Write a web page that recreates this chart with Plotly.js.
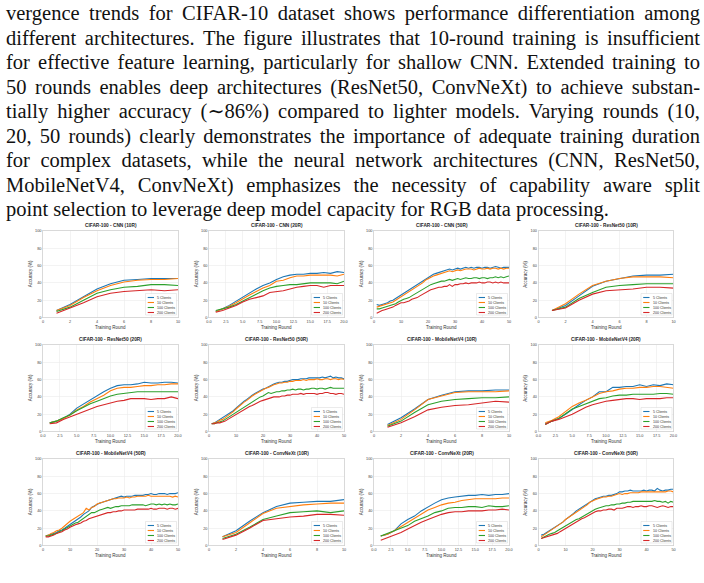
<!DOCTYPE html>
<html>
<head>
<meta charset="utf-8">
<script src="https://cdn.plot.ly/plotly-3.0.1.min.js"></script>
<style>
  html, body { margin: 0; padding: 0; background: #ffffff; }
  #fig { width: 704px; height: 583px; }
</style>
</head>
<body>
<div id="fig"></div>
<script>
// ---------- data ----------
const rounds10 = [1, 2, 3, 4, 5, 6, 7, 8, 9, 10];
const rounds20 = [1, 2, 3, 4, 5, 6, 7, 8, 9, 10, 11, 12, 13, 14, 15, 16, 17, 18, 19, 20];
const rounds50 = [1, 2, 3, 4, 5, 6, 7, 8, 9, 10, 11, 12, 13, 14, 15, 16, 17, 18, 19, 20,
                  21, 22, 23, 24, 25, 26, 27, 28, 29, 30, 31, 32, 33, 34, 35, 36, 37, 38, 39, 40,
                  41, 42, 43, 44, 45, 46, 47, 48, 49, 50];

const clientLabels = ['5 Clients', '10 Clients', '100 Clients', '200 Clients'];

// CNN
const cnn10_5   = [8, 15, 24, 33, 39, 43, 44, 45, 45, 45];
const cnn10_10  = [8, 14, 23, 31, 37, 41, 43, 44, 44, 45];
const cnn10_100 = [7, 12, 20, 28, 32, 35, 36, 38, 38, 37];
const cnn10_200 = [5, 11, 17, 24, 28, 30, 31, 32, 31, 32];

const cnn20_5   = [7, 10, 14, 19, 24, 28, 33, 37, 40, 44, 47, 49, 50, 50, 51, 51, 52, 51, 53, 52];
const cnn20_10  = [7, 10, 13, 17, 22, 26, 30, 34, 37, 42, 43, 46, 48, 48, 49, 49, 49, 49, 48, 50];
const cnn20_100 = [8, 10, 12, 15, 19, 23, 27, 31, 34, 36, 37, 38, 38, 39, 40, 40, 40, 40, 39, 42];
const cnn20_200 = [6, 8, 11, 14, 18, 21, 23, 25, 29, 30, 31, 33, 35, 36, 37, 37, 35, 37, 37, 37];

const cnn50_5   = [15, 14, 15, 16, 17, 19, 20, 22, 24, 26, 28, 30, 32, 34, 37, 39, 41, 43, 45, 47,
                   48, 50, 51, 52, 53, 54, 55, 56, 55, 56, 57, 56, 57, 58, 57, 58, 57, 58, 58, 57,
                   58, 58, 57, 58, 59, 58, 57, 58, 58, 58];
const cnn50_10  = [12, 13, 14, 15, 16, 17, 18, 20, 22, 24, 25, 27, 29, 31, 34, 36, 38, 40, 43, 45,
                   46, 48, 49, 50, 51, 52, 53, 54, 53, 54, 55, 54, 55, 56, 56, 56, 55, 56, 57, 56,
                   56, 57, 56, 57, 57, 56, 57, 56, 57, 57];
const cnn50_100 = [10, 10, 11, 12, 13, 14, 15, 16, 18, 20, 21, 22, 23, 25, 27, 29, 31, 32, 35, 37,
                   38, 39, 40, 41, 42, 42, 43, 44, 43, 44, 45, 44, 45, 46, 45, 45, 46, 46, 45, 46,
                   46, 45, 46, 46, 47, 46, 47, 46, 47, 48];
const cnn50_200 = [5, 7, 8, 9, 10, 11, 12, 14, 16, 17, 17, 18, 19, 21, 22, 23, 25, 27, 29, 31,
                   32, 33, 34, 35, 35, 36, 36, 38, 36, 38, 38, 39, 39, 40, 39, 40, 40, 40, 41, 40,
                   40, 41, 41, 40, 41, 40, 41, 40, 40, 40];

// ResNet50
const res10_5   = [8, 14, 25, 36, 42, 45, 48, 49, 49, 50];
const res10_10  = [8, 16, 27, 37, 42, 45, 47, 47, 47, 46];
const res10_100 = [8, 12, 22, 29, 35, 37, 38, 39, 39, 39];
const res10_200 = [8, 11, 20, 27, 31, 32, 33, 35, 35, 34];

const res20_5   = [10, 12, 15, 20, 27, 32, 37, 42, 46, 50, 53, 54, 54, 55, 57, 56, 56, 57, 57, 56];
const res20_10  = [10, 12, 15, 19, 25, 29, 34, 38, 42, 47, 50, 51, 51, 52, 53, 53, 54, 54, 55, 55];
const res20_100 = [10, 12, 16, 19, 24, 28, 32, 35, 38, 41, 43, 44, 45, 46, 46, 46, 46, 46, 46, 46];
const res20_200 = [9, 10, 14, 17, 20, 23, 26, 29, 31, 33, 35, 36, 38, 38, 38, 37, 38, 38, 40, 38];

const res50_5   = [9, 10, 12, 14, 15, 17, 19, 22, 24, 27, 30, 32, 35, 37, 40, 42, 44, 46, 47, 49,
                   50, 52, 53, 55, 56, 57, 57, 58, 58, 59, 60, 60, 60, 61, 61, 61, 62, 62, 62, 62,
                   62, 63, 62, 63, 64, 62, 63, 62, 62, 61];
const res50_10  = [9, 10, 11, 13, 14, 16, 18, 20, 23, 26, 29, 31, 34, 36, 39, 41, 43, 45, 47, 49,
                   50, 51, 53, 54, 55, 56, 56, 57, 57, 58, 58, 59, 59, 59, 60, 59, 60, 60, 60, 61,
                   60, 60, 61, 61, 60, 61, 61, 60, 61, 60];
const res50_100 = [9, 9, 10, 11, 12, 14, 16, 18, 21, 23, 25, 27, 29, 31, 33, 34, 36, 38, 40, 41,
                   43, 45, 44, 45, 46, 46, 47, 47, 48, 48, 49, 48, 49, 49, 48, 49, 49, 50, 50, 49,
                   50, 50, 49, 50, 51, 50, 50, 50, 50, 50];
const res50_200 = [9, 9, 10, 10, 11, 12, 14, 16, 18, 20, 21, 23, 25, 27, 29, 30, 32, 33, 35, 36,
                   37, 38, 39, 40, 40, 40, 41, 41, 42, 42, 43, 43, 43, 44, 43, 44, 44, 44, 44, 43,
                   44, 44, 45, 45, 44, 44, 43, 44, 44, 43];

// MobileNetV4
const mob10_5   = [8, 16, 26, 37, 42, 46, 47, 47, 48, 48];
const mob10_10  = [7, 14, 25, 37, 41, 45, 46, 46, 46, 47];
const mob10_100 = [6, 12, 22, 31, 35, 37, 38, 39, 39, 40];
const mob10_200 = [5, 10, 17, 25, 28, 30, 31, 33, 35, 34];

const mob20_5   = [9, 12, 15, 20, 26, 31, 36, 40, 46, 46, 51, 51, 52, 52, 54, 52, 54, 53, 55, 54];
const mob20_10  = [10, 13, 17, 23, 29, 33, 36, 40, 44, 46, 47, 49, 50, 50, 51, 51, 52, 52, 51, 50];
const mob20_100 = [8, 12, 15, 20, 26, 29, 32, 35, 38, 39, 41, 42, 42, 43, 43, 43, 43, 44, 44, 43];
const mob20_200 = [8, 12, 14, 17, 20, 24, 28, 31, 33, 35, 36, 37, 38, 38, 37, 38, 38, 38, 39, 39];

const mob50_5   = [11, 12, 13, 14, 15, 17, 18, 20, 22, 24, 26, 28, 31, 33, 36, 38, 40, 44, 46, 48,
                   49, 50, 51, 52, 53, 54, 55, 56, 57, 56, 57, 57, 57, 58, 58, 58, 58, 59, 59, 60,
                   59, 59, 60, 60, 60, 59, 60, 60, 60, 61];
const mob50_10  = [11, 12, 14, 15, 17, 18, 20, 23, 25, 28, 30, 32, 34, 36, 38, 43, 41, 44, 45, 48,
                   49, 50, 51, 52, 53, 54, 54, 55, 55, 55, 56, 55, 56, 56, 57, 57, 57, 57, 58, 57,
                   57, 57, 57, 57, 57, 57, 57, 56, 57, 56];
const mob50_100 = [11, 11, 12, 13, 14, 16, 17, 19, 21, 23, 25, 26, 27, 29, 31, 33, 35, 38, 38, 40,
                   41, 42, 43, 44, 43, 44, 45, 45, 46, 46, 46, 46, 47, 47, 47, 47, 47, 46, 47, 48,
                   48, 47, 48, 47, 48, 47, 48, 47, 47, 48];
const mob50_200 = [10, 10, 11, 12, 14, 15, 16, 18, 19, 21, 23, 24, 25, 26, 28, 29, 31, 32, 33, 34,
                   35, 36, 37, 38, 38, 39, 39, 40, 40, 41, 41, 41, 41, 41, 42, 42, 42, 42, 42, 43,
                   42, 42, 43, 43, 43, 42, 43, 43, 42, 43];

// ConvNeXt
const conv10_5   = [10, 17, 28, 38, 45, 49, 50, 51, 51, 53];
const conv10_10  = [10, 15, 26, 37, 43, 45, 47, 48, 49, 49];
const conv10_100 = [8, 13, 21, 30, 34, 38, 39, 40, 38, 40];
const conv10_200 = [7, 12, 20, 29, 31, 33, 34, 36, 36, 35];

const conv20_5   = [11, 13, 17, 25, 30, 34, 40, 45, 49, 53, 55, 56, 57, 58, 58, 59, 58, 59, 59, 60];
const conv20_10  = [11, 13, 17, 22, 27, 32, 37, 41, 44, 47, 49, 50, 52, 53, 54, 54, 54, 54, 55, 55];
const conv20_100 = [11, 14, 17, 20, 23, 28, 31, 34, 38, 40, 43, 44, 44, 45, 45, 44, 46, 45, 45, 46];
const conv20_200 = [6, 9, 12, 15, 19, 23, 27, 30, 33, 36, 38, 39, 39, 40, 40, 40, 41, 41, 42, 41];

const conv50_5   = [12, 13, 15, 17, 18, 20, 22, 24, 27, 30, 32, 35, 37, 40, 42, 44, 46, 48, 51, 53,
                    54, 55, 56, 57, 57, 58, 58, 59, 60, 62, 62, 63, 63, 64, 63, 63, 63, 63, 64, 63,
                    64, 64, 63, 66, 64, 63, 64, 64, 65, 65];
const conv50_10  = [10, 12, 14, 16, 18, 20, 22, 24, 27, 30, 32, 34, 36, 38, 40, 42, 44, 47, 50, 52,
                    53, 54, 55, 56, 56, 57, 57, 58, 59, 60, 59, 60, 60, 61, 61, 61, 61, 62, 62, 62,
                    62, 62, 62, 62, 62, 62, 62, 63, 63, 62];
const conv50_100 = [8, 10, 11, 13, 14, 15, 17, 19, 21, 23, 25, 27, 28, 30, 31, 33, 35, 37, 39, 41,
                    42, 43, 44, 45, 46, 46, 47, 47, 48, 48, 49, 49, 50, 50, 51, 51, 51, 51, 51, 51,
                    51, 51, 52, 51, 51, 50, 51, 49, 51, 50];
const conv50_200 = [8, 9, 10, 11, 12, 13, 14, 16, 18, 20, 22, 24, 25, 27, 29, 31, 32, 34, 36, 38,
                    39, 40, 40, 41, 41, 42, 42, 41, 43, 43, 43, 44, 45, 45, 44, 45, 45, 46, 45, 45,
                    46, 46, 45, 44, 45, 46, 45, 44, 45, 45];

const panelTitles = [
  'CIFAR-100 - CNN (10R)', 'CIFAR-100 - CNN (20R)', 'CIFAR-100 - CNN (50R)', 'CIFAR-100 - ResNet50 (10R)',
  'CIFAR-100 - ResNet50 (20R)', 'CIFAR-100 - ResNet50 (50R)', 'CIFAR-100 - MobileNetV4 (10R)', 'CIFAR-100 - MobileNetV4 (20R)',
  'CIFAR-100 - MobileNetV4 (50R)', 'CIFAR-100 - ConvNeXt (10R)', 'CIFAR-100 - ConvNeXt (20R)', 'CIFAR-100 - ConvNeXt (50R)'
];

const paragraphLines = [
  'vergence trends for CIFAR-10 dataset shows performance differentiation among',
  'different architectures. The figure illustrates that 10-round training is insufficient',
  'for effective feature learning, particularly for shallow CNN. Extended training to',
  '50 rounds enables deep architectures (ResNet50, ConvNeXt) to achieve substan-',
  'tially higher accuracy (\u223C86%) compared to lighter models. Varying rounds (10,',
  '20, 50 rounds) clearly demonstrates the importance of adequate training duration',
  'for complex datasets, while the neural network architectures (CNN, ResNet50,',
  'MobileNetV4, ConvNeXt) emphasizes the necessity of capability aware split',
  'point selection to leverage deep model capacity for RGB data processing.'
];

// ---------- panels ----------
const panels = [
  { x: rounds10, ys: [cnn10_5, cnn10_10, cnn10_100, cnn10_200] },
  { x: rounds20, ys: [cnn20_5, cnn20_10, cnn20_100, cnn20_200] },
  { x: rounds50, ys: [cnn50_5, cnn50_10, cnn50_100, cnn50_200] },
  { x: rounds10, ys: [res10_5, res10_10, res10_100, res10_200] },
  { x: rounds20, ys: [res20_5, res20_10, res20_100, res20_200] },
  { x: rounds50, ys: [res50_5, res50_10, res50_100, res50_200] },
  { x: rounds10, ys: [mob10_5, mob10_10, mob10_100, mob10_200] },
  { x: rounds20, ys: [mob20_5, mob20_10, mob20_100, mob20_200] },
  { x: rounds50, ys: [mob50_5, mob50_10, mob50_100, mob50_200] },
  { x: rounds10, ys: [conv10_5, conv10_10, conv10_100, conv10_200] },
  { x: rounds20, ys: [conv20_5, conv20_10, conv20_100, conv20_200] },
  { x: rounds50, ys: [conv50_5, conv50_10, conv50_100, conv50_200] }
];

// ---------- styling / geometry ----------
const W = 704, H = 583;
const colors = ['#1f77b4', '#ff7f0e', '#2ca02c', '#d62728'];
const sans = 'Liberation Sans';
const serif = "'Liberation Serif', 'Tinos', 'Times New Roman', 'DejaVu Serif', serif";
const colLeft = [43, 209, 374, 538.5];
const rowTop = [231, 345, 459];
const plotW = 135, plotH = 86.5;

const traces = [];
const layout = {
  width: W, height: H,
  margin: { l: 0, r: 0, t: 0, b: 0 },
  paper_bgcolor: '#ffffff',
  plot_bgcolor: '#ffffff',
  showlegend: false,
  annotations: [],
  shapes: []
};

panels.forEach((p, i) => {
  const sfx = i === 0 ? '' : String(i + 1);
  const r = Math.floor(i / 4), c = i % 4;
  const L = colLeft[c], T = rowTop[r];
  const maxR = p.x[p.x.length - 1];

  p.ys.forEach((y, k) => {
    traces.push({
      type: 'scatter', mode: 'lines',
      x: p.x, y: y,
      name: clientLabels[k],
      xaxis: 'x' + sfx, yaxis: 'y' + sfx,
      line: { color: colors[k], width: 1.1 },
      hoverinfo: 'skip'
    });
  });

  const common = {
    showgrid: true, gridcolor: '#ebebeb', gridwidth: 0.6,
    showline: true, mirror: true, linecolor: '#d0d0d0', linewidth: 0.8,
    zeroline: false, ticks: '',
    tickfont: { family: sans, size: 3.8, color: '#444' },
    fixedrange: true
  };
  layout['xaxis' + sfx] = Object.assign({}, common, {
    domain: [L / W, (L + plotW) / W],
    anchor: 'y' + sfx,
    range: [0, maxR],
    tick0: 0,
    dtick: maxR === 10 ? 2 : (maxR === 20 ? 2.5 : 10),
    tickformat: maxR === 20 ? '.1f' : 'd'
  });
  layout['yaxis' + sfx] = Object.assign({}, common, {
    domain: [1 - (T + plotH) / H, 1 - T / H],
    anchor: 'x' + sfx,
    range: [0, 100], tick0: 0, dtick: 20
  });

  const xd = 'x' + sfx + ' domain', yd = 'y' + sfx + ' domain';
  // panel title
  layout.annotations.push({
    xref: xd, yref: yd, x: 0.5, y: 1, yanchor: 'bottom', yshift: 1.5,
    text: panelTitles[i], showarrow: false,
    font: { family: sans, size: 4.75, color: '#262626', weight: 'bold' }
  });
  // axis titles
  layout.annotations.push({
    xref: xd, yref: yd, x: 0.5, y: 0, yanchor: 'middle', yshift: -10,
    text: 'Training Round', showarrow: false,
    font: { family: sans, size: 4.5, color: '#333' }
  });
  layout.annotations.push({
    xref: xd, yref: yd, x: 0, y: 0.5, xanchor: 'center', xshift: -13, textangle: -90,
    text: 'Accuracy (%)', showarrow: false,
    font: { family: sans, size: 4.5, color: '#333' }
  });

  // legend box (lower right)
  const bx0 = (plotW - 32.5) / plotW, bx1 = (plotW - 1.5) / plotW;
  const by0 = 2.5 / plotH, by1 = 24 / plotH;
  layout.shapes.push({
    type: 'rect', xref: xd, yref: yd, x0: bx0, x1: bx1, y0: by0, y1: by1,
    fillcolor: 'rgba(255,255,255,0.9)', line: { color: '#d6d6d6', width: 0.5 }, layer: 'above'
  });
  clientLabels.forEach((lab, k) => {
    const yy = (20 - 5 * k) / plotH;
    layout.shapes.push({
      type: 'line', xref: xd, yref: yd,
      x0: (plotW - 30.3) / plotW, x1: (plotW - 24) / plotW, y0: yy, y1: yy,
      line: { color: colors[k], width: 1.1 }, layer: 'above'
    });
    layout.annotations.push({
      xref: xd, yref: yd, x: (plotW - 22.7) / plotW, y: yy,
      xanchor: 'left', yanchor: 'middle', text: lab, showarrow: false,
      font: { family: sans, size: 3.6, color: '#333' }
    });
  });
});

// paragraph above the figure grid
const textLeft = 4, textRight = 698, firstLineY = 14, lineGap = 24.45;
paragraphLines.forEach((line, i) => {
  layout.annotations.push({
    xref: 'paper', yref: 'paper',
    x: textLeft / W, y: 1 - (firstLineY + lineGap * i) / H,
    xanchor: 'left', yanchor: 'middle', align: 'left',
    text: line, showarrow: false,
    font: { family: serif, size: 20.5, color: '#111' }
  });
});

Plotly.newPlot('fig', traces, layout, { staticPlot: true, displayModeBar: false }).then(gd => {
  // paragraph lines: serif face, full justification for all but the last line
  const justified = paragraphLines.slice(0, paragraphLines.length - 1);
  gd.querySelectorAll('.annotation-text').forEach(t => {
    const s = t.textContent;
    if (paragraphLines.indexOf(s) >= 0) {
      t.style.fontFamily = serif;
      if (justified.indexOf(s) >= 0) {
        const w = t.getComputedTextLength();
        const n = (s.match(/ /g) || []).length;
        if (n > 0) t.style.wordSpacing = ((textRight - textLeft - w) / n) + 'px';
      }
    }
  });
});
</script>
</body>
</html>
